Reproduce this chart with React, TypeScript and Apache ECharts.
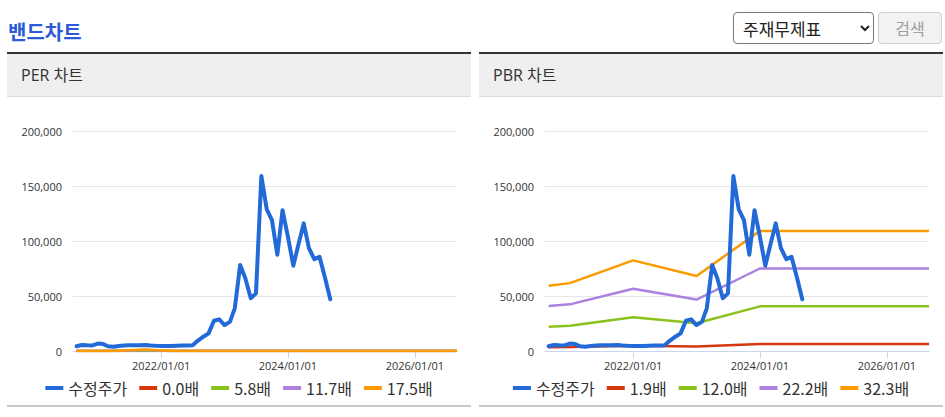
import React, { useEffect, useRef } from "react";
import * as echarts from "echarts";

// ---- data ----
const priceDates = [
  "2020-09-01", "2020-10-01", "2020-11-01", "2020-12-01",
  "2021-01-01", "2021-02-01", "2021-03-01", "2021-04-01", "2021-05-01", "2021-06-01",
  "2021-07-01", "2021-08-01", "2021-09-01", "2021-10-01", "2021-11-01", "2021-12-01",
  "2022-01-01", "2022-02-01", "2022-03-01", "2022-04-01", "2022-05-01", "2022-06-01",
  "2022-07-01", "2022-08-01", "2022-09-01", "2022-10-01", "2022-11-01", "2022-12-01",
  "2023-01-01", "2023-02-01", "2023-03-01", "2023-04-01", "2023-05-01", "2023-06-01",
  "2023-07-01", "2023-08-01", "2023-09-01", "2023-10-01", "2023-11-01", "2023-12-01",
  "2024-01-01", "2024-02-01", "2024-03-01", "2024-04-01", "2024-05-01", "2024-06-01",
  "2024-07-01", "2024-08-01", "2024-09-01",
];
const priceValues = [
  4300, 5500, 5200, 5100,
  6800, 6300, 4300, 3900, 4600, 5000,
  5300, 5200, 5300, 5500, 5000, 4700,
  4500, 4500, 4600, 4800, 5000, 5100,
  5200, 9500, 13000, 16000, 27500, 28800,
  23600, 26500, 38800, 78200, 66000, 48000,
  52400, 159000, 128800, 119000, 87500, 128000,
  104000, 77500, 96500, 116000, 93500, 83500,
  85700, 67000, 47000,
];

const perBandDates = ["2020-09-01", "2021-04-01", "2021-10-01", "2022-03-01", "2026-09-01"];
const perBandNames = ["0.0배", "5.8배", "11.7배", "17.5배"];
const perBand1 = [0, 0, 0, 0, 0];
const perBand2 = [0, 0, 450, 0, 0];
const perBand3 = [0, 0, 950, 0, 0];
const perBand4 = [0, 0, 1400, 0, 0];

const pbrBandDates = ["2020-09-01", "2021-01-01", "2022-01-01", "2023-01-01", "2024-01-01", "2026-09-01"];
const pbrBandNames = ["1.9배", "12.0배", "22.2배", "32.3배"];
const pbrBand1 = [3500, 3600, 4800, 4000, 6400, 6400];
const pbrBand2 = [22100, 22900, 30600, 25300, 40600, 40600];
const pbrBand3 = [40800, 42400, 56600, 46800, 75000, 75000];
const pbrBand4 = [59400, 61700, 82400, 68200, 109200, 109200];

const xTickLabels = ["2022/01/01", "2024/01/01", "2026/01/01"];
const axisMinDate = "2020-08-11";
const axisMaxDate = "2026-09-01";

const priceName = "수정주가";
const priceColor = "#236ad9";
const bandColors = ["#d6380c", "#8bc21c", "#ab80e0", "#fd9a00"];

const FONT = '"Open Sans", "Noto Sans CJK KR", sans-serif';
const KFONT = '"Noto Sans CJK KR", "Open Sans", sans-serif';

function toTs(s: string): number {
  const p = s.split(/[-\/]/).map(Number);
  return new Date(p[0], p[1] - 1, p[2]).getTime();
}

function pad(n: number) {
  return n < 10 ? "0" + n : "" + n;
}

function makeOption(bandDates: string[], bandNames: string[], bands: number[][]) {
  const tickValues = xTickLabels.map(toTs);
  const series: any[] = bands.map((vals, i) => ({
    type: "line",
    name: bandNames[i],
    data: bandDates.map((d, j) => [toTs(d), vals[j]]),
    showSymbol: false,
    symbol: "none",
    lineStyle: { width: 2.5, color: bandColors[i] },
    itemStyle: { color: bandColors[i] },
    emphasis: { disabled: true },
    z: 2,
  }));
  series.unshift({
    type: "line",
    name: priceName,
    data: priceDates.map((d, j) => [toTs(d), priceValues[j]]),
    showSymbol: false,
    symbol: "none",
    lineStyle: { width: 4, color: priceColor, join: "round", cap: "round" },
    itemStyle: { color: priceColor },
    emphasis: { disabled: true },
    z: 3,
  });
  return {
    animation: false,
    textStyle: { fontFamily: FONT },
    grid: { left: 66, right: 14, top: 34, bottom: 54, outerBoundsMode: "none" },
    legend: {
      top: 278,
      left: "center",
      padding: [5, 0, 5, 9],
      icon: "rect",
      itemWidth: 18,
      itemHeight: 4,
      itemGap: 12,
      textStyle: { fontSize: 16, color: "#333", fontFamily: KFONT },
      data: [priceName, ...bandNames],
    },
    xAxis: {
      type: "value",
      min: toTs(axisMinDate),
      max: toTs(axisMaxDate),
      axisLine: { show: true, lineStyle: { color: "#ccd6eb", width: 1 } },
      axisTick: { show: true, length: 7, lineStyle: { color: "#ccd6eb" }, customValues: tickValues },
      axisLabel: {
        customValues: tickValues,
        fontSize: 11,
        color: "#333",
        margin: 9,
        fontFamily: FONT,
        formatter: (v: number) => {
          const d = new Date(v);
          return d.getFullYear() + "/" + pad(d.getMonth() + 1) + "/" + pad(d.getDate());
        },
      },
      splitLine: { show: false },
    },
    yAxis: {
      type: "value",
      min: 0,
      max: 200000,
      interval: 50000,
      axisLine: { show: false },
      axisTick: { show: false },
      axisLabel: {
        fontSize: 11,
        color: "#333",
        margin: 11,
        fontFamily: FONT,
        formatter: (v: number) => v.toLocaleString("en-US"),
      },
      splitLine: { lineStyle: { color: "#e6e6e6", width: 1 } },
    },
    series,
  };
}

function Chart({ option }: { option: any }) {
  const ref = useRef<HTMLDivElement>(null);
  useEffect(() => {
    const chart = echarts.init(ref.current!, undefined, { renderer: "svg" });
    chart.setOption(option);
    return () => chart.dispose();
  }, []);
  return <div ref={ref} style={{ width: 464, height: 308 }} />;
}

function Panel({ left, title, option }: { left: number; title: string; option: any }) {
  return (
    <div style={{ position: "absolute", left, top: 52, width: 464 }}>
      <div
        style={{
          borderTop: "2px solid #333",
          height: 42,
          background: "#efefef",
          borderBottom: "1px solid #dcdcdc",
          position: "relative",
        }}
      >
        <div
          style={{
            position: "absolute",
            left: 14,
            top: 0,
            lineHeight: "42px",
            fontSize: 16,
            color: "#333",
            fontFamily: FONT,
          }}
        >
          {title}
        </div>
      </div>
      <div style={{ borderBottom: "2px solid #c8c8c8" }}>
        <Chart option={option} />
      </div>
    </div>
  );
}

export default function App() {
  const perOption = makeOption(perBandDates, perBandNames, [perBand1, perBand2, perBand3, perBand4]);
  const pbrOption = makeOption(pbrBandDates, pbrBandNames, [pbrBand1, pbrBand2, pbrBand3, pbrBand4]);
  return (
    <div
      style={{
        position: "absolute",
        left: 0,
        top: 0,
        width: 945,
        height: 417,
        overflow: "hidden",
        background: "#fff",
        fontFamily: KFONT,
      }}
    >
      <div
        style={{
          position: "absolute",
          left: 8,
          top: 20,
          height: 24,
          lineHeight: "24px",
          fontSize: 20,
          fontWeight: "bold",
          color: "#2b5bd7",
          fontFamily: KFONT,
        }}
      >
        밴드차트
      </div>
      <select
        defaultValue="a"
        style={{
          position: "absolute",
          left: 733,
          top: 12,
          width: 141,
          height: 32,
          fontSize: 17,
          fontFamily: KFONT,
          paddingLeft: 5,
          borderRadius: 4,
          border: "1px solid #767676",
          background: "#fff",
          color: "#222",
        }}
      >
        <option value="a">주재무제표</option>
      </select>
      <button
        disabled
        style={{
          position: "absolute",
          left: 878,
          top: 12,
          width: 64,
          height: 32,
          fontSize: 16,
          fontFamily: KFONT,
          borderRadius: 4,
          border: "1px solid #d0d0d0",
          background: "#f2f2f2",
          color: "#a0a0a0",
          padding: 0,
        }}
      >
        검색
      </button>
      <Panel left={7} title="PER 차트" option={perOption} />
      <Panel left={479} title="PBR 차트" option={pbrOption} />
    </div>
  );
}
